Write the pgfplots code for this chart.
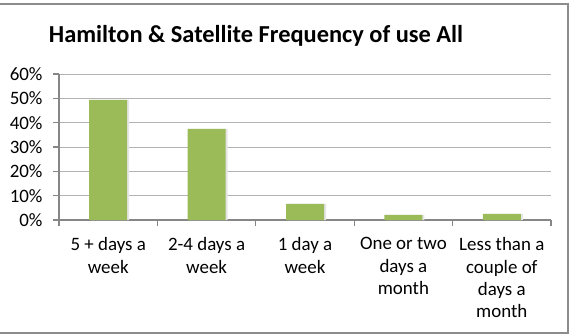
\documentclass[border=0pt]{standalone}
\usepackage{pgfplots}
\pgfplotsset{compat=1.18}
\usepackage{fontspec}
\setmainfont{Carlito}
\definecolor{barg}{HTML}{9BBB59}
\definecolor{axg}{HTML}{868686}
\definecolor{gridg}{HTML}{B3B3B3}
\definecolor{frameg}{HTML}{8C8C8C}
\begin{document}
\begin{tikzpicture}[x=1bp,y=1bp]
\useasboundingbox (-59bp,-115bp) rectangle (512bp,220bp);
\begin{axis}[
  at={(0,0)}, anchor=south west,
  scale only axis, width=492bp, height=146bp,
  xmin=-0.5, xmax=4.5, ymin=0, ymax=60,
  ytick={0,10,...,60},
  yticklabel={\pgfmathprintnumber{\tick}\%},
  /pgf/number format/assume math mode=true,
  xtick={0,...,4},
  xticklabels={{5 + days a\\week},{2-4 days a\\week},{1 day a\\week},{One or two\\days a\\month},{Less than a\\couple of\\days a\\month}},
  minor xtick={-0.5,0.5,...,4.5},
  x tick label style={align=center, font=\fontsize{19}{22.5}\selectfont, yshift=-8bp},
  y tick label style={font=\fontsize{19}{22}\selectfont, xshift=-7bp},
  axis x line*=bottom, axis y line*=left,
  axis line style={-, axg, line width=1.3bp},
  tick align=outside,
  major x tick style={draw=none},
  minor x tick style={axg, line width=1.1bp},
  major y tick style={axg, line width=1.1bp},
  major tick length=6bp, minor tick length=6bp,
  ymajorgrids, grid style={gridg, line width=0.9bp},
  ybar, bar width=38bp,
  clip=false,
]
\addplot[fill=black!10, draw=none, bar shift=2bp] coordinates {(0,49.4) (1,37.5) (2,6.6) (3,2.1) (4,2.5)};
\addplot[fill=barg, draw=none, bar shift=0bp] coordinates {(0,49.4) (1,37.5) (2,6.6) (3,2.1) (4,2.5)};
\end{axis}
\node[anchor=base, font=\fontsize{24.5}{28}\selectfont\bfseries] at (197bp,177bp) {Hamilton \& Satellite Frequency of use All};
\draw[frameg, line width=1.2bp] (-60bp,216bp) -- (509bp,216bp) -- (509bp,-113bp) -- (-60bp,-113bp);
\end{tikzpicture}
\end{document}
